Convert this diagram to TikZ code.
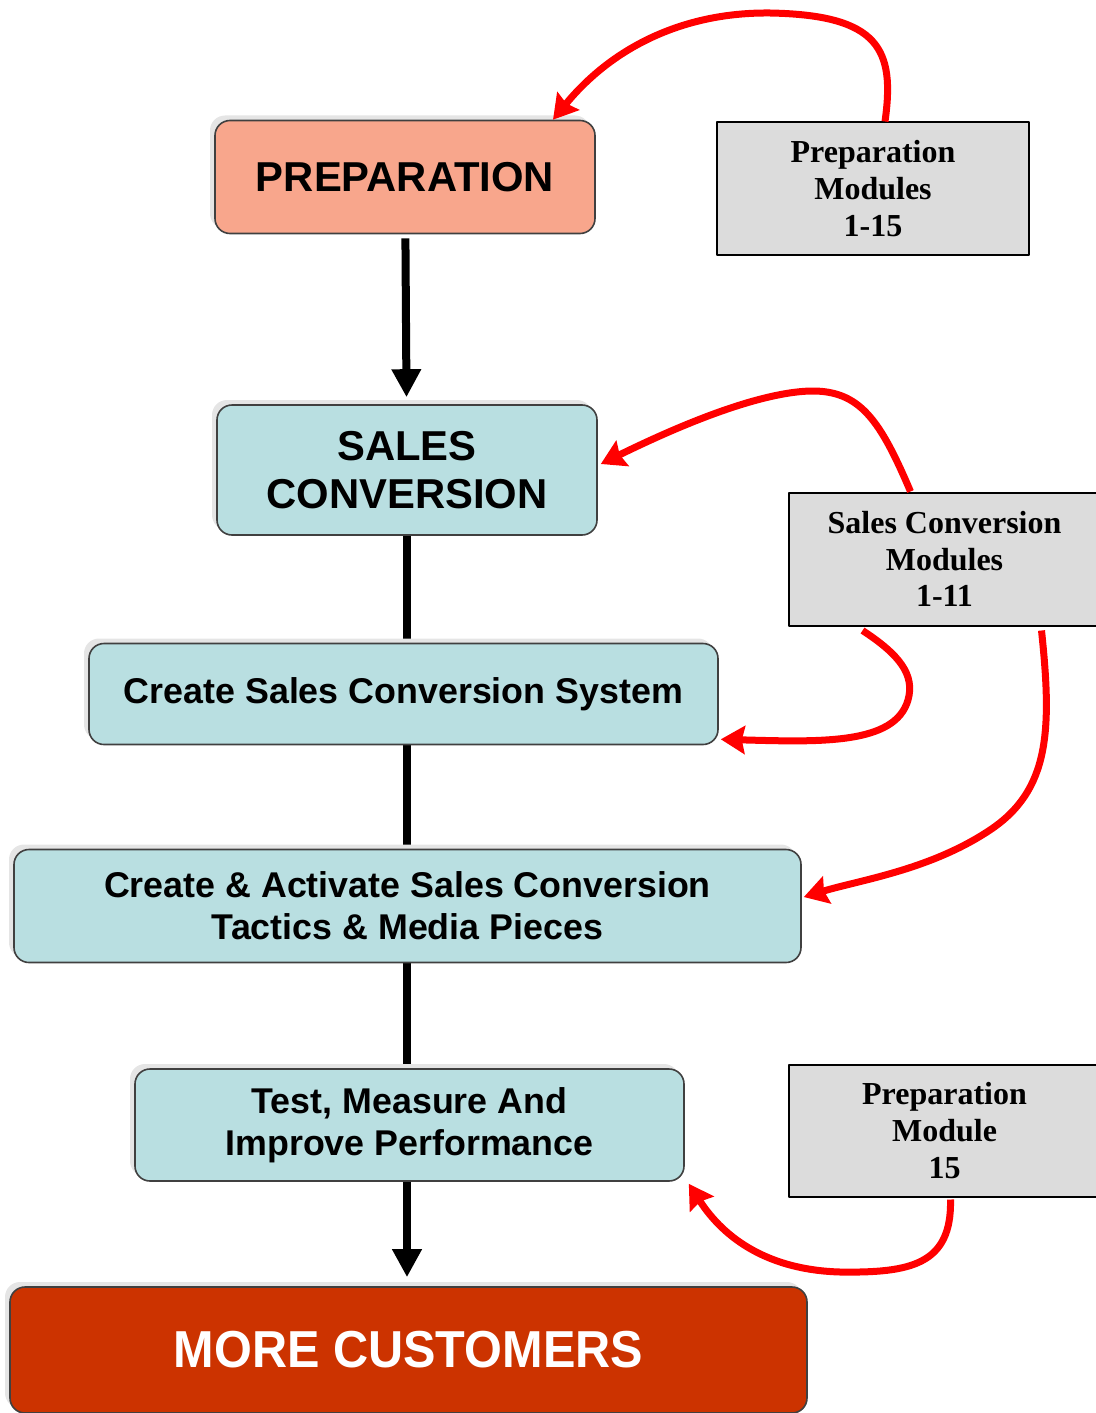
\documentclass[tikz,border=0pt]{standalone}
\usepackage{fontspec}
\setmainfont{Liberation Sans}
\newfontfamily\modfont{Liberation Serif}
\newfontfamily\narrowfont[FakeStretch=0.935]{Liberation Sans}
\usepackage{tikz}
\usetikzlibrary{arrows.meta,backgrounds,shadows}
\definecolor{scPrep}{HTML}{F8A68C}
\definecolor{scTeal}{HTML}{B9DFE1}
\definecolor{scResult}{HTML}{CC3300}
\definecolor{scModule}{HTML}{DCDCDC}
\definecolor{scEdge}{HTML}{404040}
\definecolor{scRed}{HTML}{FF0000}
\tikzset{
  sc diagram/.style={line join=round},
  sc stage/.style={draw=scEdge, fill=scTeal, line width=0.8pt,
    rounded corners=7.5pt, align=center, inner sep=0pt,
    font=\bfseries\fontsize{17.9}{21}\selectfont,
    general shadow={fill=black!10, shadow xshift=-2.5pt, shadow yshift=2.5pt}},
  sc big/.style={font=\bfseries\fontsize{20.9}{24}\selectfont},
  sc module/.style={draw=black, fill=scModule, line width=1pt,
    align=center, inner sep=0pt,
    font=\modfont\bfseries\fontsize{16}{18.3}\selectfont},
  sc flow/.style={draw=black, line width=4pt},
  sc arrow/.style={sc flow, -{Triangle[length=14pt,width=14pt]}},
  sc link/.style={draw=scRed, line width=3.5pt,
    -{Stealth[length=12pt,width=14pt,inset=1.5pt]}}
}
\begin{document}
\begin{tikzpicture}[sc diagram,x=0.5pt,y=-0.5pt]
\clip (0,0) rectangle (1096,1413);
\node[sc stage, sc big, fill=scPrep, minimum width=190pt, minimum height=56.5pt] (prep) at (405,177) {PREPARATION};
\node[sc stage, sc big, minimum width=190pt, minimum height=65pt] (sales) at (407,470) {SALES\\CONVERSION};
\node[sc stage, minimum width=314.5pt, minimum height=50.5pt] (system) at (403.5,694) {Create Sales Conversion System};
\node[sc stage, minimum width=393.5pt, minimum height=56.5pt] (tactics) at (407.5,906) {Create \& Activate Sales Conversion\\Tactics \& Media Pieces};
\node[sc stage, minimum width=274.5pt, minimum height=56pt] (test) at (409.5,1125) {Test, Measure And\\Improve Performance};
\node[sc stage, fill=scResult, text=white, minimum width=398.5pt, minimum height=63pt,
  font=\narrowfont\bfseries\fontsize{26}{30}\selectfont] (more) at (408.5,1350) {MORE CUSTOMERS};

\node[sc module, minimum width=156pt, minimum height=66pt] (prepmod) at (873,188.5) {Preparation\\Modules\\1-15};
\node[sc module, minimum width=155.5pt, minimum height=66.5pt] (salesmod) at (944.5,559) {Sales Conversion\\Modules\\1-11};
\node[sc module, minimum width=155.5pt, minimum height=66pt] (finalmod) at (944.5,1130.5) {Preparation\\Module\\15};

\draw[sc arrow, shorten <=2pt, shorten >=3.5pt] (prep) -- (sales);
\begin{scope}[on background layer]
\draw[sc flow] (sales.south) -- (sales.south |- system.north);
\draw[sc flow] (sales.south |- system.south) -- (sales.south |- tactics.north);
\draw[sc flow] (sales.south |- tactics.south) -- (sales.south |- test.north);
\end{scope}
\draw[sc arrow, shorten >=4.5pt] (sales.south |- test.south) -- (sales.south |- more.north);

\draw[sc link] ([xshift=6pt]prepmod.north) .. controls (895,50) and (880,15) .. (770,13)
  .. controls (680,12) and (610,50) .. ([xshift=74pt]prep.north);
\draw[sc link] ([xshift=-17pt]salesmod.north) .. controls (880,420) and (860,390) .. (810,391)
  .. controls (750,393) and (660,435) .. ([xshift=1.5pt,yshift=3pt]sales.east);
\draw[sc link] ([xshift=-41pt,yshift=-2pt]salesmod.south) .. controls (900,655) and (915,675) .. (908,700)
  .. controls (895,745) and (820,742) .. ([xshift=1pt,yshift=3pt]system.south east);
\draw[sc link] ([xshift=48.5pt,yshift=-2pt]salesmod.south) .. controls (1052,730) and (1050,790) .. (990,830)
  .. controls (930,870) and (860,880) .. ([xshift=1pt,yshift=4.5pt]tactics.east);
\draw[sc link] ([xshift=3pt,yshift=-1pt]finalmod.south) .. controls (952,1265) and (910,1273) .. (840,1272)
  .. controls (770,1270) and (725,1240) .. ([xshift=2pt,yshift=-1pt]test.south east);
\end{tikzpicture}
\end{document}
